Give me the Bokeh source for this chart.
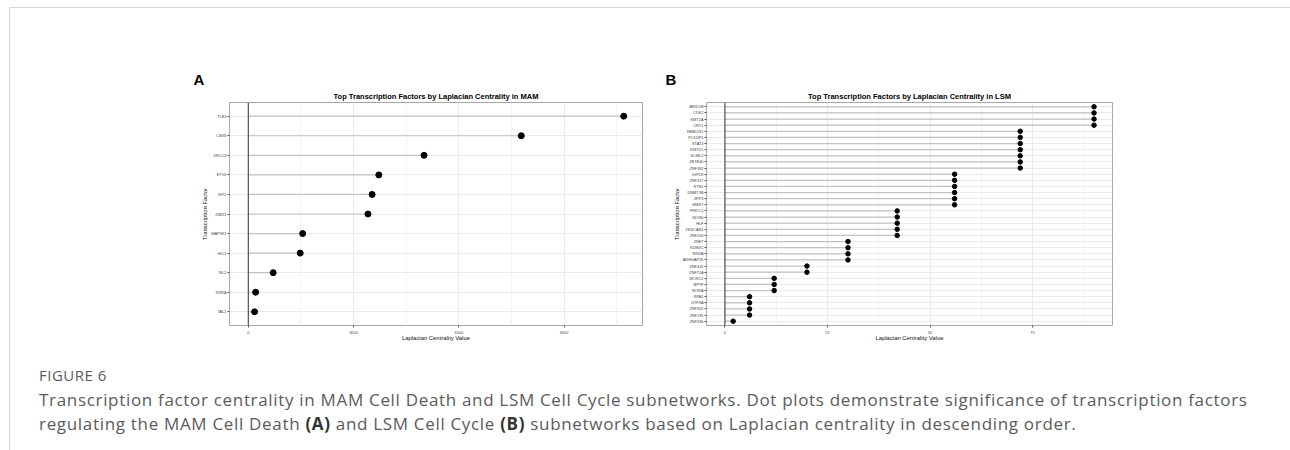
from bokeh.plotting import figure
from bokeh.models import ColumnDataSource, FactorRange, Range1d, FixedTicker, Span, Title, Div, Spacer
from bokeh.layouts import row, column
from bokeh.embed import file_html
from bokeh.resources import INLINE

# ---------------- data ----------------
mam_tfs = ["TLE3", "CBX8", "XRCC3", "ETV6", "SPI1", "ZMIZ1", "MAP3K1", "HIC1", "ISL2", "RXRA", "TAL1"]
mam_vals = [10700, 7780, 5010, 3720, 3530, 3410, 1550, 1480, 710, 210, 180]
mam_ticks = [0, 3000, 6000, 9000]
mam_minor = [1500, 4500, 7500, 10500]

lsm_tfs = ["ARID1B", "CDK2", "KMT2A", "CRY1", "HMBOX1", "POU2F1", "STAT4", "KMT2C", "SCML2",
           "ZBTB40", "ZNF382", "IGF1R", "ZNF317", "STN1", "DNMT3B", "ZFP3", "EMSY", "PRKCQ",
           "INO80", "HLF", "ZKSCAN1", "ZNF264", "ZNF7", "KDM4C", "SIN3A", "ARHGAP35", "ZNF445",
           "ZNF75A", "MORC2", "BPTF", "RORA", "RPA1", "GTF3A", "ZNF302", "ZNF195", "ZNF336"]
lsm_vals = [90, 90, 90, 90, 72, 72, 72, 72, 72, 72, 72, 56, 56, 56, 56, 56, 56, 42,
            42, 42, 42, 42, 30, 30, 30, 30, 20, 20, 12, 12, 12, 6, 6, 6, 6, 2]
lsm_ticks = [0, 25, 50, 75]
lsm_minor = [12.5, 37.5, 62.5, 87.5]

title_a = "Top Transcription Factors by Laplacian Centrality in MAM"
title_b = "Top Transcription Factors by Laplacian Centrality in LSM"
x_title = "Laplacian Centrality Value"
y_title = "Transcription Factor"

FONT = "Liberation Sans"
H = 339


def make_panel(tfs, vals, ticks, minor, ttl, letter, letter_offset, width, mbl, mbr, pt_size):
    src = ColumnDataSource(dict(tf=tfs, val=vals, zero=[0] * len(vals)))
    vmax = max(vals)
    p = figure(width=width, height=H,
               y_range=FactorRange(factors=list(reversed(tfs)), range_padding=0.2,
                                   range_padding_units="absolute"),
               x_range=Range1d(-0.05 * vmax, 1.05 * vmax),
               output_backend="svg", toolbar_location=None, title=None,
               min_border_left=mbl, min_border_right=mbr, min_border_top=94,
               min_border_bottom=22)
    p.background_fill_color = "white"
    p.border_fill_color = "white"
    p.outline_line_color = "#a6a6a6"
    p.outline_line_width = 1

    # grids
    p.xgrid.ticker = FixedTicker(ticks=ticks, minor_ticks=minor)
    p.xaxis.ticker = FixedTicker(ticks=ticks, minor_ticks=minor)
    p.xgrid.grid_line_color = "#ebebeb"
    p.xgrid.minor_grid_line_color = "#f3f3f3"
    p.ygrid.grid_line_color = "#ebebeb"

    # axes
    for ax in (p.xaxis, p.yaxis):
        ax.axis_line_color = None
        ax.major_tick_in = 0
        ax.major_tick_out = 2
        ax.major_tick_line_color = "#555555"
        ax.minor_tick_line_color = None
        ax.major_label_text_font = FONT
        ax.major_label_text_font_size = "3.9px"
        ax.major_label_text_color = "#444444"
        ax.major_label_standoff = 1
        ax.axis_label_text_font = FONT
        ax.axis_label_text_font_size = "5.9px"
        ax.axis_label_text_font_style = "normal"
        ax.axis_label_text_color = "#111111"
    p.xaxis.axis_label_standoff = -2
    p.yaxis.axis_label_standoff = 0
    p.xaxis.axis_label = x_title
    p.yaxis.axis_label = y_title

    # lollipops
    p.segment(x0="zero", y0="tf", x1="val", y1="tf", source=src,
              line_color="#c2c2c2", line_width=1.2)
    p.add_layout(Span(location=0, dimension="height", line_color="#333333", line_width=1))
    p.scatter(x="val", y="tf", source=src, size=pt_size, color="black")

    # titles
    p.add_layout(Title(text=ttl, align="center", text_font=FONT, text_font_size="7.5px",
                       text_font_style="bold", text_color="black", standoff=4), "above")
    p.add_layout(Title(text=letter, align="left", offset=letter_offset, text_font=FONT,
                       text_font_size="15px", text_font_style="bold", text_color="black",
                       standoff=0), "above")
    return p


pa = make_panel(mam_tfs, mam_vals, mam_ticks, mam_minor, title_a, "A", -36,
                637, 219, 5, 6)
pb = make_panel(lsm_tfs, lsm_vals, lsm_ticks, lsm_minor, title_b, "B", -41,
                476, 59, 11, 4.5)

caption_html = (
    '<div style="font-family:\'Open Sans\'; color:#5b5b5b;">'
    '<div style="font-size:15px; line-height:18px; margin-top:19px; margin-left:29px; '
    'letter-spacing:0.5px; white-space:nowrap;">FIGURE 6</div>'
    '<div style="font-size:17px; line-height:24px; margin-top:4px; margin-left:29px; '
    'letter-spacing:0.68px; white-space:nowrap;">'
    'Transcription factor centrality in MAM Cell Death and LSM Cell Cycle subnetworks. '
    'Dot plots demonstrate significance of transcription factors<br>'
    'regulating the MAM Cell Death <b style="color:#333">(A)</b> and LSM Cell Cycle '
    '<b style="color:#333">(B)</b> subnetworks based on Laplacian centrality in descending order.'
    '</div></div>'
)
caption = Div(text=caption_html, width=1270, height=100, margin=0)

hline = Div(text="", width=1281, height=1, margin=0, styles={"background-color": "#d6d6d6"})
vline = Div(text="", width=1, height=442, margin=0, styles={"background-color": "#d6d6d6"})

content = column(row(pa, pb, spacing=0), caption, spacing=0)
layout = column(
    Spacer(height=7, width=10),
    row(Spacer(width=9, height=1), hline, spacing=0),
    row(Spacer(width=9, height=10), vline, content, spacing=0),
    spacing=0,
)

open("out.html", "w").write(file_html(layout, INLINE))
